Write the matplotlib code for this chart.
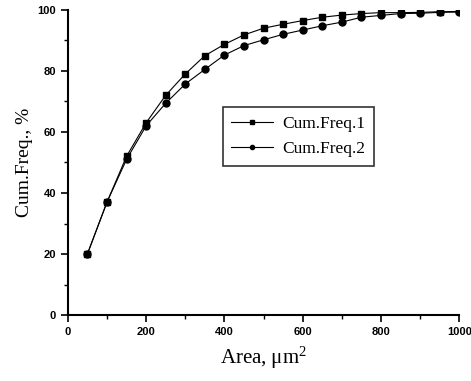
import numpy as np
import matplotlib
matplotlib.use("Agg")
import matplotlib.pyplot as plt
from matplotlib.ticker import MultipleLocator

area = [50, 100, 150, 200, 250, 300, 350, 400, 450, 500,
        550, 600, 650, 700, 750, 800, 850, 900, 950, 1000]
cum_freq_1 = [20, 37, 52, 63, 72, 79, 85, 88.7, 91.8, 94,
              95.3, 96.5, 97.6, 98.3, 98.8, 99.1, 99.1, 99.2, 99.4, 99.5]
cum_freq_2 = [20, 37, 51, 62, 69.4, 75.7, 80.5, 85.2, 88.3, 90.2,
              92, 93.4, 94.8, 96, 97.6, 98.2, 98.8, 98.9, 99.2, 99.3]

serif = "Liberation Serif"
sans = "Liberation Sans"

fig = plt.figure(figsize=(4.71, 3.81), dpi=100)
ax = fig.add_axes([0.144, 0.173, 0.831, 0.801])

ax.plot(area, cum_freq_1, color="black", lw=0.8, marker="s", ms=5,
        label="Cum.Freq.1")
ax.plot(area, cum_freq_2, color="black", lw=0.8, marker="o", ms=5,
        label="Cum.Freq.2")

ax.set_xlim(0, 1000)
ax.set_ylim(0, 100)
ax.xaxis.set_major_locator(MultipleLocator(200))
ax.xaxis.set_minor_locator(MultipleLocator(100))
ax.yaxis.set_major_locator(MultipleLocator(20))
ax.yaxis.set_minor_locator(MultipleLocator(10))
ax.tick_params(which="major", direction="out", length=5, width=1.2,
               labelsize=8)
ax.tick_params(which="minor", direction="out", length=3, width=1.0)
for lab in ax.get_xticklabels() + ax.get_yticklabels():
    lab.set_fontfamily(sans)
    lab.set_fontweight("bold")

for s in ["top", "right"]:
    ax.spines[s].set_visible(False)
for s in ["left", "bottom"]:
    ax.spines[s].set_linewidth(1.5)

ax.set_xlabel(r"Area, $\mathregular{\mu m^2}$", fontfamily=serif, fontsize=15,
              labelpad=6)
ax.set_ylabel("Cum.Freq., %", fontfamily=serif, fontsize=14, labelpad=3)

leg = ax.legend(loc="upper left", bbox_to_anchor=(0.396, 0.682),
                borderaxespad=0, frameon=True, fancybox=False,
                edgecolor="black", markerscale=0.6, handlelength=2.4,
                handletextpad=0.5, labelspacing=0.55, borderpad=0.5,
                prop={"family": serif, "size": 12.5})
leg.get_frame().set_linewidth(1.2)

fig.savefig("out.png", dpi=100)
